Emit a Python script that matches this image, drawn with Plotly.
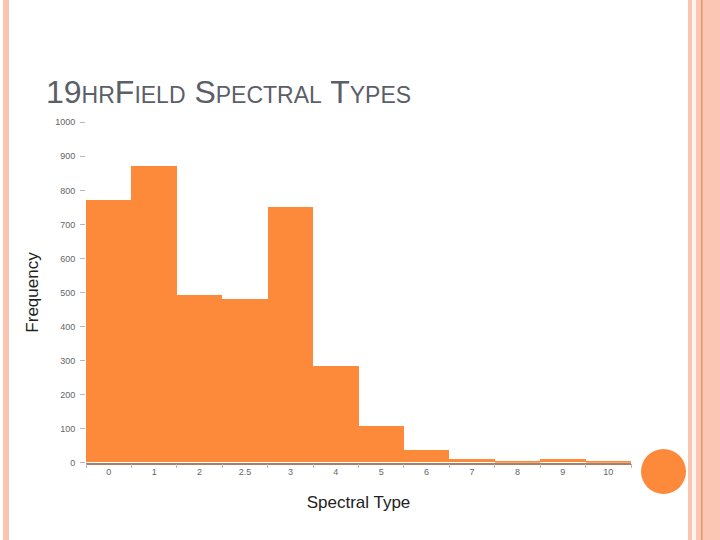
import plotly.graph_objects as go

W, H = 720, 540

# Palette
ORANGE = "#FD8A3A"
SALMON = "#F9C5B1"
SALMON_DARK = "#E7946A"
GREY_TITLE = "#5B6068"
AXIS_BROWN = "#A8806A"

# Données
spectral_types = ["0", "1", "2", "2.5", "3", "4", "5", "6", "7", "8", "9", "10"]
frequencies = [772, 871, 493, 479, 751, 282, 108, 35, 11, 5, 11, 5]
y_ticks = [0, 100, 200, 300, 400, 500, 600, 700, 800, 900, 1000]


def px_x(v):
    return v / W


def px_y(v):
    return 1 - v / H


fig = go.Figure(go.Bar(
    x=spectral_types, y=frequencies,
    marker_color=ORANGE, marker_line_width=0,
))

small = "<span style='font-size:23px'>{}</span>"
title = ("19" + small.format("HR") + "F" + small.format("IELD") + " S"
         + small.format("PECTRAL") + " T" + small.format("YPES"))

fig.update_layout(
    width=W, height=H,
    margin=dict(l=0, r=0, t=0, b=0, pad=0),
    plot_bgcolor="white", paper_bgcolor="white",
    bargap=0, showlegend=False,
    font=dict(family="Liberation Sans, Arial, sans-serif", color="#222"),
    xaxis=dict(
        type="category", domain=[px_x(86), px_x(631)], automargin=False,
        tickson="boundaries", ticks="outside", ticklen=4, tickcolor="#B8B8B8",
        showline=True, linecolor=AXIS_BROWN, linewidth=1.5,
        showgrid=False, zeroline=False,
        tickfont=dict(size=9, color="#666"),
        title=dict(text="Spectral Type", font=dict(size=17, color="#222"), standoff=20),
    ),
    yaxis=dict(
        domain=[px_y(462.7), px_y(122.3)], range=[0, 1000], automargin=False,
        tickvals=y_ticks, ticks="outside", ticklen=5, tickcolor="#B8B8B8",
        showline=False, showgrid=False, zeroline=False,
        tickfont=dict(size=9, color="#666"), ticklabelstandoff=3,
        title=dict(text="Frequency", font=dict(size=17, color="#222"), standoff=12),
    ),
)

fig.add_annotation(
    text=title, xref="paper", yref="paper",
    x=px_x(44), y=px_y(92), xanchor="left", yanchor="middle",
    showarrow=False, font=dict(size=32, color=GREY_TITLE),
)

# Décor de la diapositive
shapes = [
    dict(type="rect", x0=px_x(3), x1=px_x(9), y0=0, y1=1, fillcolor=SALMON),
    dict(type="rect", x0=px_x(688), x1=px_x(692), y0=0, y1=1, fillcolor=SALMON),
    dict(type="rect", x0=px_x(692), x1=px_x(696), y0=0, y1=1, fillcolor="#FEF4EF"),
    dict(type="rect", x0=px_x(696), x1=px_x(720), y0=0, y1=1, fillcolor="#FBC6B3"),
    dict(type="rect", x0=px_x(701), x1=px_x(702.5), y0=0, y1=1, fillcolor=SALMON_DARK),
    dict(type="circle", x0=px_x(641), x1=px_x(686), y0=px_y(449), y1=px_y(494),
         fillcolor=ORANGE),
]
for s in shapes:
    fig.add_shape(xref="paper", yref="paper", line_width=0, layer="below", **s)

page_css = (
    "document.documentElement.style.overflow='hidden';"
    "document.body.style.margin='0';"
    "document.body.style.overflow='hidden';"
)
fig.write_html("out.html", post_script=page_css, config={"displayModeBar": False})
